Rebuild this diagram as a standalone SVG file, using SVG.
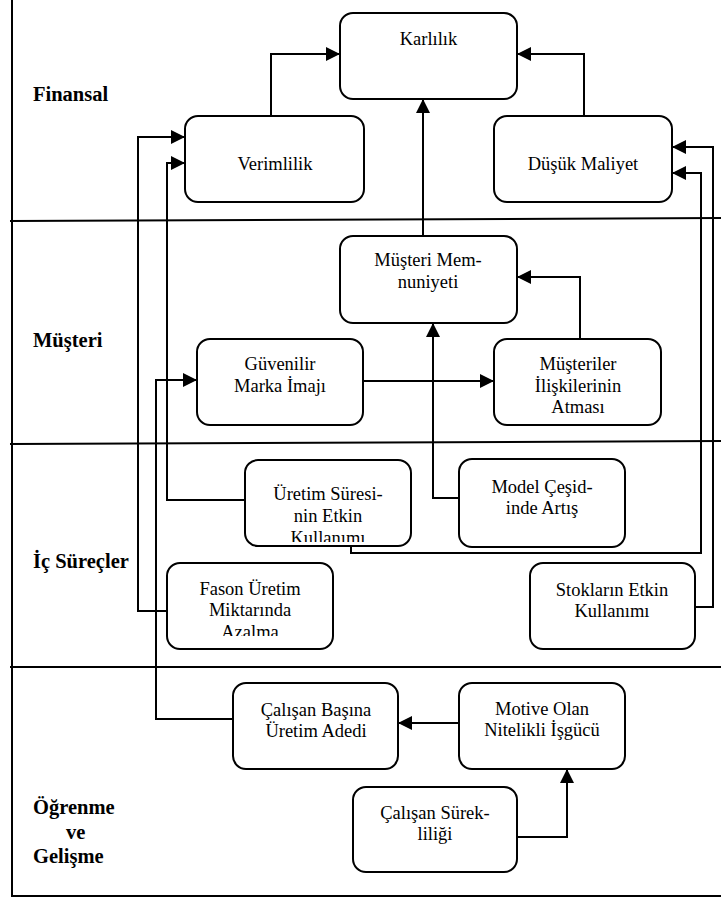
<svg xmlns="http://www.w3.org/2000/svg" width="721" height="899" viewBox="0 0 721 899">
<style>
.frame{stroke:#000;stroke-width:2;fill:none}
.box{fill:#fff;stroke:#000;stroke-width:2}
.t{font-family:"Liberation Serif","Times New Roman",serif;font-size:18.5px;fill:#000;text-anchor:middle}
.lbl{font-family:"Liberation Serif","Times New Roman",serif;font-size:20.5px;font-weight:bold;fill:#000}
.c{stroke:#000;stroke-width:2;fill:none}
.a{marker-end:url(#arr)}
</style>
<defs>
<marker id="arr" viewBox="0 0 14 14" refX="14" refY="7" markerWidth="15" markerHeight="14" markerUnits="userSpaceOnUse" orient="auto">
<path d="M0,0 L14,7 L0,14 z" fill="#000"/>
</marker>
<clipPath id="clipU"><rect x="245" y="460" width="166" height="82"/></clipPath>
<clipPath id="clipF"><rect x="167" y="563" width="166" height="73"/></clipPath>
</defs>
<rect width="721" height="899" fill="#fff"/>
<g id="frame">
<line class="frame" x1="12" y1="0" x2="12" y2="896"/>
<line class="frame" x1="10" y1="221" x2="721" y2="218"/>
<line class="frame" x1="10" y1="444" x2="721" y2="441"/>
<line class="frame" x1="10" y1="667" x2="721" y2="667"/>
<line class="frame" x1="11" y1="896" x2="721" y2="896"/>
</g>
<g id="labels">
<text class="lbl" x="33" y="101">Finansal</text>
<text class="lbl" x="33" y="347">Müşteri</text>
<text class="lbl" x="33" y="568">İç Süreçler</text>
<text class="lbl" x="33" y="814">Öğrenme</text>
<text class="lbl" x="66" y="839">ve</text>
<text class="lbl" x="33" y="863">Gelişme</text>
</g>
<g id="connectors">
<path class="c a" d="M271,116 V54 H340"/>
<path class="c a" d="M584,116 V54 H517"/>
<path class="c a" d="M423,236 V99"/>
<path class="c a" d="M580,339 V277 H517"/>
<path class="c a" d="M363,381 H494"/>
<path class="c a" d="M459,498 H433 V323"/>
<path class="c a" d="M245,500 H167 V163 H185"/>
<path class="c a" d="M351,546 V553 H701 V173 H672"/>
<path class="c a" d="M695,607 H713 V147 H672"/>
<path class="c a" d="M167,611 H138 V137 H185"/>
<path class="c a" d="M233,719 H156 V380 H197"/>
<path class="c a" d="M459,723 H398"/>
<path class="c a" d="M517,837 H567 V769"/>
</g>
<g id="karlilik">
<rect class="box" x="340" y="13" width="177" height="86" rx="13"/>
<text class="t" x="428.5" y="45">Karlılık</text>
</g>
<g id="verimlilik">
<rect class="box" x="185" y="116" width="179" height="86" rx="13"/>
<text class="t" x="275" y="170">Verimlilik</text>
</g>
<g id="dusuk-maliyet">
<rect class="box" x="494" y="116" width="178" height="86" rx="13"/>
<text class="t" x="583" y="170">Düşük Maliyet</text>
</g>
<g id="musteri-memnuniyeti">
<rect class="box" x="340" y="236" width="177" height="87" rx="13"/>
<text class="t" x="428" y="266">Müşteri Mem-</text>
<text class="t" x="428" y="288">nuniyeti</text>
</g>
<g id="guvenilir-marka">
<rect class="box" x="197" y="339" width="166" height="86" rx="13"/>
<text class="t" x="280" y="370">Güvenilir</text>
<text class="t" x="280" y="392">Marka İmajı</text>
</g>
<g id="musteriler-iliskileri">
<rect class="box" x="494" y="339" width="167" height="86" rx="13"/>
<text class="t" x="578" y="370">Müşteriler</text>
<text class="t" x="578" y="392">İlişkilerinin</text>
<text class="t" x="578" y="413">Atması</text>
</g>
<g id="uretim-suresi">
<rect class="box" x="245" y="460" width="166" height="86" rx="13"/>
<text class="t" x="328" y="500">Üretim Süresi-</text>
<text class="t" x="328" y="522">nin Etkin</text>
<text class="t" x="328" y="544" clip-path="url(#clipU)">Kullanımı</text>
</g>
<g id="model-cesidi">
<rect class="box" x="459" y="459" width="166" height="88" rx="13"/>
<text class="t" x="542" y="493">Model Çeşid-</text>
<text class="t" x="542" y="514">inde Artış</text>
</g>
<g id="fason-uretim">
<rect class="box" x="167" y="563" width="166" height="86" rx="13"/>
<text class="t" x="250" y="595">Fason Üretim</text>
<text class="t" x="250" y="616">Miktarında</text>
<text class="t" x="250" y="638" clip-path="url(#clipF)">Azalma</text>
</g>
<g id="stoklar">
<rect class="box" x="530" y="563" width="165" height="86" rx="13"/>
<text class="t" x="612" y="596">Stokların Etkin</text>
<text class="t" x="612" y="617">Kullanımı</text>
</g>
<g id="calisan-basina">
<rect class="box" x="233" y="683" width="165" height="86" rx="13"/>
<text class="t" x="316" y="716">Çalışan Başına</text>
<text class="t" x="316" y="737">Üretim Adedi</text>
</g>
<g id="motive-isgucu">
<rect class="box" x="459" y="683" width="166" height="86" rx="13"/>
<text class="t" x="542" y="715">Motive Olan</text>
<text class="t" x="542" y="736">Nitelikli İşgücü</text>
</g>
<g id="calisan-surekliligi">
<rect class="box" x="353" y="787" width="164" height="85" rx="13"/>
<text class="t" x="435" y="819">Çalışan Sürek-</text>
<text class="t" x="435" y="840">liliği</text>
</g>
</svg>
